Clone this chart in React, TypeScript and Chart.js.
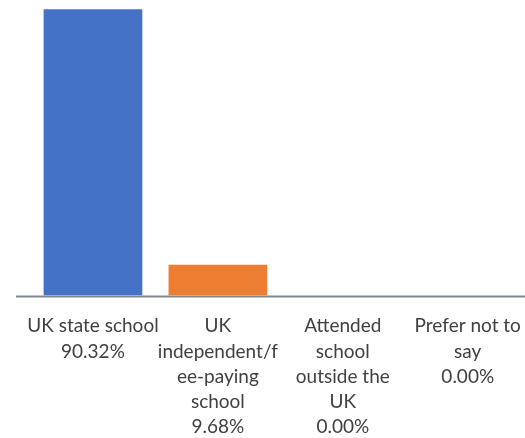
import React, { useEffect, useRef } from "react";
import { Chart, registerables } from "chart.js";

Chart.register(...registerables);

const categoryLines: string[][] = [
  ["UK state school"],
  ["UK", "independent/f", "ee-paying", "school"],
  ["Attended", "school", "outside the", "UK"],
  ["Prefer not to", "say"],
];
const values: number[] = [90.32, 9.68, 0, 0];
const barColors: string[] = ["#4472C4", "#ED7D31", "#A5A5A5", "#FFC000"];
const Y_MAX = 93.2;

const tickLabels = categoryLines.map((lines, i) => [...lines, values[i].toFixed(2) + "%"]);

const baselinePlugin = {
  id: "baseline",
  afterDatasetsDraw(chart: any) {
    const y = chart.scales.y.getPixelForValue(0) + 1;
    const ctx = chart.ctx;
    ctx.save();
    ctx.strokeStyle = "#7F8896";
    ctx.lineWidth = 2;
    ctx.beginPath();
    ctx.moveTo(16, y);
    ctx.lineTo(chart.width, y);
    ctx.stroke();
    ctx.restore();
  },
};

export default function App() {
  const ref = useRef<HTMLCanvasElement>(null);
  useEffect(() => {
    if (!ref.current) return;
    const chart = new Chart(ref.current, {
      type: "bar",
      data: {
        labels: tickLabels,
        datasets: [
          {
            data: values,
            backgroundColor: barColors,
            borderWidth: 0,
            categoryPercentage: 1,
            barPercentage: 0.79,
          },
        ],
      },
      options: {
        animation: false,
        responsive: false,
        maintainAspectRatio: false,
        layout: { padding: { left: 30.5, right: 9, top: 0, bottom: 0 } },
        plugins: { legend: { display: false }, tooltip: { enabled: false } },
        scales: {
          y: { display: false, min: 0, max: Y_MAX },
          x: {
            grid: { display: false, drawTicks: false },
            border: { display: false },
            ticks: {
              color: "#404040",
              padding: 18,
              maxRotation: 0,
              autoSkip: false,
              font: { family: "Lato", size: 19, lineHeight: "25.3px" as any },
            },
          },
        },
      },
      plugins: [baselinePlugin],
    });
    return () => chart.destroy();
  }, []);
  return (
    <div style={{ position: "fixed", left: 0, top: 0, width: 525, height: 438, overflow: "hidden", background: "#fff" }}>
      <canvas ref={ref} width={540} height={458} style={{ width: 540, height: 458, display: "block" }} />
    </div>
  );
}
